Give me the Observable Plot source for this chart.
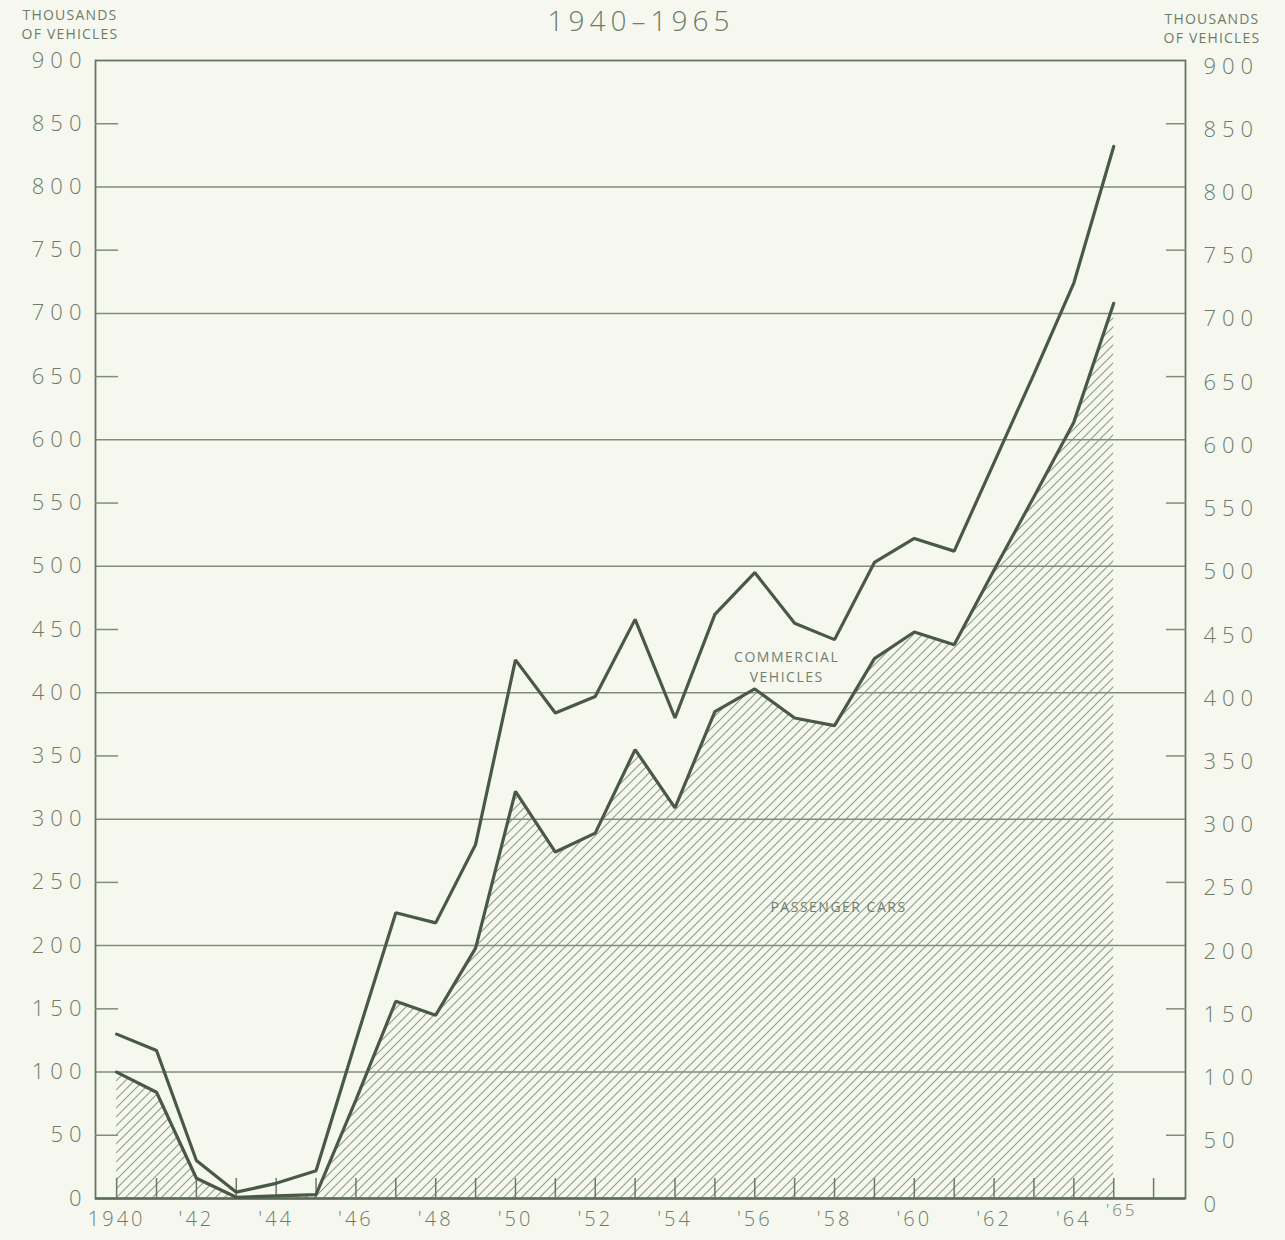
<!DOCTYPE html>
<html>
<head>
<meta charset="utf-8">
<script src="https://cdn.jsdelivr.net/npm/d3@7"></script>
<script src="https://cdn.jsdelivr.net/npm/@observablehq/plot@0.6"></script>
<style>
  html, body { margin: 0; padding: 0; background: #f6f8f0; }
  #wrap { position: relative; width: 1285px; height: 1240px; font-family: "Open Sans", "DejaVu Sans", sans-serif; color: #6c7c68; }
  .ov { position: absolute; white-space: nowrap; text-align: center; transform: translateX(-50%); line-height: 1; }
  #title { left: 641px; top: 6px; font-size: 28px; letter-spacing: 5px; font-weight: 300; }
  .unit { font-size: 14px; letter-spacing: 1.2px; font-weight: 400; line-height: 19px; }
  #chart svg text { letter-spacing: 6px; }
</style>
</head>
<body>
<div id="wrap">
  <div id="chart"></div>
  <div id="title" class="ov">1940–1965</div>
  <div class="ov unit" style="left:70px; top:5px;">THOUSANDS<br>OF VEHICLES</div>
  <div class="ov unit" style="left:1212px; top:9px;">THOUSANDS<br>OF VEHICLES</div>
</div>
<script>
// ---- data (thousands of vehicles) ----
const years = [1940, 1941, 1942, 1943, 1944, 1945, 1946, 1947, 1948, 1949, 1950, 1951, 1952,
               1953, 1954, 1955, 1956, 1957, 1958, 1959, 1960, 1961, 1962, 1963, 1964, 1965];
const passengerCars = [100, 84, 16, 1, 2, 3, 78, 156, 145, 198, 322, 274, 289,
                       355, 309, 385, 403, 380, 374, 427, 448, 438, 497, 555, 614, 708];
const commercialVehicles = [30, 33, 14, 4, 10, 19, 47, 70, 73, 82, 104, 110, 108,
                            103, 71, 77, 92, 75, 68, 76, 74, 74, 85, 97, 110, 124];
const yLabelTicks = [0, 50, 100, 150, 200, 250, 300, 350, 400, 450, 500, 550, 600, 650, 700, 750, 800, 850, 900];
const gridValues = [100, 200, 300, 400, 500, 600, 700, 800];
const halfTicks = [50, 150, 250, 350, 450, 550, 650, 750, 850];
const yearTicks = [1940, 1941, 1942, 1943, 1944, 1945, 1946, 1947, 1948, 1949, 1950, 1951, 1952, 1953,
                   1954, 1955, 1956, 1957, 1958, 1959, 1960, 1961, 1962, 1963, 1964, 1965, 1966];
const yearLabels = [1940, 1942, 1944, 1946, 1948, 1950, 1952, 1954, 1956, 1958, 1960, 1962, 1964];
const seriesNames = ["PASSENGER CARS", "COMMERCIAL VEHICLES"];
const annotations = [
  {year: 1956.8, value: 428, text: "COMMERCIAL"},
  {year: 1956.8, value: 412, text: "VEHICLES"},
  {year: 1958.1, value: 230, text: "PASSENGER CARS"}
];

const table = [];
years.forEach((yr, i) => {
  table.push({year: yr, type: seriesNames[0], value: passengerCars[i]});
  table.push({year: yr, type: seriesNames[1], value: commercialVehicles[i]});
});
const carsRows = table.filter(d => d.type === seriesNames[0]);

const ink = "#4a5946";
const textCol = "#6c7c68";
const gridCol = "#7f8d7a";

const plot = Plot.plot({
  width: 1285,
  height: 1240,
  marginLeft: 95,
  marginRight: 100,
  marginTop: 60,
  marginBottom: 42,
  style: {background: "transparent", fontFamily: "'Open Sans', 'DejaVu Sans', sans-serif", color: textCol},
  x: {domain: [1939.47, 1966.8]},
  y: {domain: [0, 900]},
  marks: [
    Plot.areaY(carsRows, {x: "year", y: "value", fill: "url(#hatch)", curve: "linear"}),
    Plot.ruleY(gridValues, {stroke: gridCol, strokeWidth: 1.5}),
    Plot.frame({stroke: "#66755f", strokeWidth: 1.8}),
    Plot.ruleY([0], {stroke: "#5c6b57", strokeWidth: 2.5}),
    // left axis labels
    Plot.axisY(yLabelTicks, {anchor: "left", tickSize: 0, tickPadding: 8, fontSize: 22, fill: textCol, label: null, fontWeight: 300}),
    Plot.axisY(halfTicks, {anchor: "left", tickSize: -23, text: null, stroke: gridCol, strokeWidth: 1.5, label: null}),
    // right axis labels
    Plot.axisY(yLabelTicks, {anchor: "right", tickSize: 0, tickPadding: 18, dy: 6, fontSize: 22, fill: textCol, label: null, fontWeight: 300}),
    Plot.axisY(halfTicks, {anchor: "right", tickSize: -20, text: null, stroke: gridCol, strokeWidth: 1.5, label: null}),
    // x axis
    Plot.axisX(yearTicks, {anchor: "bottom", tickSize: -20, text: null, stroke: "#6a7965", strokeWidth: 1.5, label: null}),
    Plot.axisX(yearLabels, {anchor: "bottom", tickSize: 0, tickPadding: 13, fontSize: 20, fill: textCol, label: null, fontWeight: 300,
      tickFormat: d => d === 1940 ? "1940" : "'" + String(d).slice(2)}),
    Plot.axisX([1965], {anchor: "bottom", tickSize: 0, tickPadding: 5, dx: 8, fontSize: 17, fill: textCol, label: null, fontWeight: 300,
      tickFormat: d => "'" + String(d).slice(2)}),
    // lines (passenger cars, and cars + commercial vehicles on top)
    Plot.lineY(table, Plot.stackY2({x: "year", y: "value", z: "type", order: seriesNames,
      stroke: ink, strokeWidth: 3.2, strokeLinejoin: "miter"})),
    // annotations
    Plot.text(annotations, {x: "year", y: "value", text: "text", fontSize: 14, fill: "#707f6c"})
  ]
});

// hatch pattern definition
const ns = "http://www.w3.org/2000/svg";
const defs = document.createElementNS(ns, "defs");
defs.innerHTML = `<pattern id="hatch" patternUnits="userSpaceOnUse" width="9" height="9">
  <path d="M-2,2 L2,-2 M0,9 L9,0 M7,11 L11,7" stroke="#8e9c87" stroke-width="1.1" fill="none"/>
</pattern>`;
plot.insertBefore(defs, plot.firstChild);
plot.querySelectorAll("g[aria-label='text'] text").forEach(t => { t.style.letterSpacing = "1.5px"; });
plot.querySelectorAll("g[aria-label='x-axis tick label'] text").forEach(t => { t.style.letterSpacing = "3px"; });
document.getElementById("chart").appendChild(plot);
</script>
</body>
</html>
